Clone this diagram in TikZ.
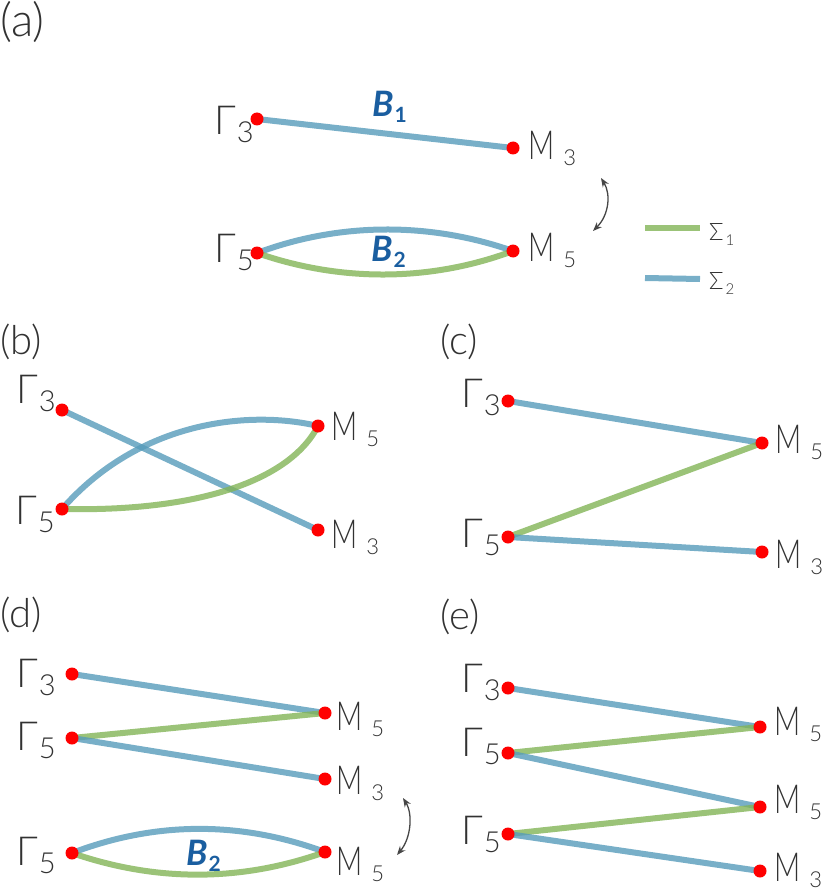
\documentclass[tikz,border=0pt]{standalone}
\usepackage{graphicx}
\usepackage{fontspec}
\setmainfont{Lato}
\newfontfamily\lightfont{Lato Light}
\newfontfamily\latob{Lato}
\usetikzlibrary{arrows.meta}
\definecolor{lineblue}{RGB}{86,155,186}
\definecolor{linegreen}{RGB}{130,180,86}
\definecolor{labblue}{RGB}{26,94,160}
\definecolor{txt}{RGB}{50,50,50}
\definecolor{arrgray}{RGB}{70,70,70}
\newcommand\GLab[1]{{\lightfont\fontsize{40}{40}\selectfont Γ\kern1pt\raisebox{-8pt}{\fontsize{29}{29}\selectfont #1}}}
\newcommand\MLab[1]{{\lightfont\fontsize{40}{40}\selectfont \scalebox{0.72}[1]{M}\kern9pt\raisebox{-6pt}{\fontsize{22}{22}\selectfont #1}}}
\newcommand\BLab[1]{{\latob\bfseries\itshape\fontsize{35}{35}\selectfont B\kern1pt\raisebox{-6pt}{\upshape\fontsize{21}{21}\selectfont #1}}}
\newcommand\SLab[1]{{\lightfont\fontsize{24}{24}\selectfont Σ\kern2pt\raisebox{-5pt}{\fontsize{15}{15}\selectfont #1}}}
\tikzset{
  dotnode/.style={circle,fill=red,inner sep=0pt,minimum size=13pt},
  lab/.style={anchor=base west,inner sep=0pt,text=txt},
  blab/.style={anchor=base west,inner sep=0pt,text=labblue},
  bl/.style={draw=lineblue,draw opacity=0.8,line width=6pt},
  gr/.style={draw=linegreen,draw opacity=0.8,line width=6pt},
  dbl/.style={{Stealth[length=9pt,width=7pt]}-{Stealth[length=9pt,width=7pt]},draw=arrgray,line width=1.3pt},
  panel/.style={anchor=north west,inner sep=0pt,text=txt}
}
\begin{document}
\begin{tikzpicture}[x=1pt,y=-1pt]
\useasboundingbox (0,0) rectangle (830,896);
% ---------- coordinates ----------
% (a)
\coordinate (ag3) at (257,119); \coordinate (am3) at (513,148);
\coordinate (ag5) at (257,253); \coordinate (am5) at (513,251);
% (b)
\coordinate (bg3) at (62,410); \coordinate (bm5) at (318,426);
\coordinate (bg5) at (62,509); \coordinate (bm3) at (318,530);
% (c)
\coordinate (cg3) at (508,401); \coordinate (cm5) at (762,443);
\coordinate (cg5) at (508,537); \coordinate (cm3) at (762,552);
% (d)
\coordinate (dg3) at (72,674); \coordinate (dm5) at (325,713);
\coordinate (dg5) at (72,738); \coordinate (dm3) at (325,779);
\coordinate (dg5b) at (72,853); \coordinate (dm5b) at (325,852);
% (e)
\coordinate (eg3) at (508,688); \coordinate (em5) at (760,727);
\coordinate (eg5) at (508,753); \coordinate (em5b) at (760,807);
\coordinate (eg5b) at (508,834); \coordinate (em3) at (760,871);
% ---------- edges ----------
\draw[bl] (ag3) -- (am3);
\draw[bl] (ag5) .. controls (340,222) and (430,222) .. (am5);
\draw[gr] (ag5) .. controls (340,282) and (430,282) .. (am5);

\draw[bl] (bg3) -- (bm3);
\draw[bl] (bg5) .. controls (140,420) and (250,410) .. (bm5);
\draw[gr] (bg5) .. controls (200,512) and (290,480) .. (bm5);

\draw[bl] (cg3) -- (cm5);
\draw[gr] (cg5) -- (cm5);
\draw[bl] (cg5) -- (cm3);

\draw[bl] (dg3) -- (dm5);
\draw[gr] (dg5) -- (dm5);
\draw[bl] (dg5) -- (dm3);
\draw[bl] (dg5b) .. controls (156,821) and (241,821) .. (dm5b);
\draw[gr] (dg5b) .. controls (156,882) and (241,882) .. (dm5b);

\draw[bl] (eg3) -- (em5);
\draw[gr] (eg5) -- (em5);
\draw[bl] (eg5) -- (em5b);
\draw[gr] (eg5b) -- (em5b);
\draw[bl] (eg5b) -- (em3);
% ---------- dots ----------
\foreach \p in {ag3,am3,ag5,am5,bg3,bm5,bg5,bm3,cg3,cm5,cg5,cm3,dg3,dm5,dg5,dm3,dg5b,dm5b,eg3,em5,eg5,em5b,eg5b,em3}
  \node[dotnode] (dot-\p) at (\p) {};
% ---------- labels ----------
\node[panel,font=\lightfont\fontsize{46}{46}\selectfont] (pa) at (0,1) {(a)};
\node[panel,font=\lightfont\fontsize{40}{40}\selectfont] (pb) at (0,324) {(b)};
\node[panel,font=\lightfont\fontsize{40}{40}\selectfont] (pc) at (440,324) {(c)};
\node[panel,font=\lightfont\fontsize{40}{40}\selectfont] (pd) at (0,597) {(d)};
\node[panel,font=\lightfont\fontsize{40}{40}\selectfont] (pe) at (440,599) {(e)};

\node[lab] (la-g3) at (214,135) {\GLab{3}};
\node[lab] (la-g5) at (214,262) {\GLab{5}};
\node[lab] (la-m3) at (528,160) {\MLab{3}};
\node[lab] (la-m5) at (528,261) {\MLab{5}};
\node[blab] (la-b1) at (372,117) {\BLab{1}};
\node[blab] (la-b2) at (371,261) {\BLab{2}};

\node[lab] (lb-g3) at (16,403) {\GLab{3}};
\node[lab] (lb-g5) at (15,524) {\GLab{5}};
\node[lab] (lb-m5) at (331,440) {\MLab{5}};
\node[lab] (lb-m3) at (331,548) {\MLab{3}};

\node[lab] (lc-g3) at (461,407) {\GLab{3}};
\node[lab] (lc-g5) at (461,547) {\GLab{5}};
\node[lab] (lc-m5) at (775,453) {\MLab{5}};
\node[lab] (lc-m3) at (775,568) {\MLab{3}};

\node[lab] (ld-g3) at (16,687) {\GLab{3}};
\node[lab] (ld-g5) at (16,750) {\GLab{5}};
\node[lab] (ld-g5b) at (16,865) {\GLab{5}};
\node[lab] (ld-m5) at (336,730) {\MLab{5}};
\node[lab] (ld-m3) at (336,794) {\MLab{3}};
\node[lab] (ld-m5b) at (336,875) {\MLab{5}};
\node[blab] (ld-b2) at (186,865) {\BLab{2}};

\node[lab] (le-g3) at (461,692) {\GLab{3}};
\node[lab] (le-g5) at (461,756) {\GLab{5}};
\node[lab] (le-g5b) at (461,844) {\GLab{5}};
\node[lab] (le-m5) at (774,735) {\MLab{5}};
\node[lab] (le-m5b) at (774,813) {\MLab{5}};
\node[lab] (le-m3) at (774,881) {\MLab{3}};
% ---------- exchange arrows ----------
\coordinate (xa1) at (601,178); \coordinate (xa2) at (593,231);
\draw[dbl] (xa1) .. controls (611,194) and (609,215) .. (xa2);
\coordinate (xd1) at (403,798); \coordinate (xd2) at (397,855);
\draw[dbl] (xd1) .. controls (413,814) and (411,838) .. (xd2);
% ---------- legend ----------
\coordinate (lg1a) at (645,228); \coordinate (lg1b) at (700,228);
\coordinate (lg2a) at (645,278); \coordinate (lg2b) at (700,279);
\draw[gr] (lg1a) -- (lg1b);
\draw[bl] (lg2a) -- (lg2b);
\node[lab] (ls1) at (709,240) {\SLab{1}};
\node[lab] (ls2) at (709,289) {\SLab{2}};
\end{tikzpicture}
\end{document}
